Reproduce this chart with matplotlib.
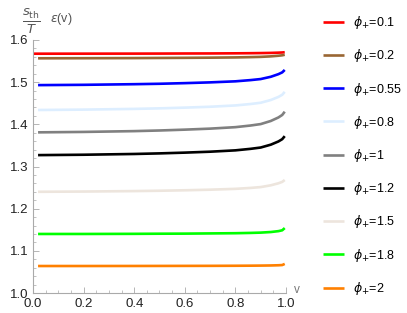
import matplotlib
matplotlib.use("Agg")
import matplotlib.pyplot as plt
from matplotlib.ticker import MultipleLocator

v = [0.02, 0.2, 0.4, 0.5, 0.6, 0.7, 0.8, 0.86, 0.9, 0.94, 0.97, 0.985, 0.995]
labels = ["0.1", "0.2", "0.55", "0.8", "1", "1.2", "1.5", "1.8", "2"]
colors = ["#FF0000", "#996633", "#0000FF", "#DDEEFF", "#808080",
          "#000000", "#EDE5DD", "#00FF00", "#FF8000"]
series = [
    [1.5675, 1.5676, 1.5677, 1.5678, 1.568, 1.5681, 1.5684, 1.5687, 1.569, 1.5694, 1.570, 1.5704, 1.571],
    [1.5566, 1.5568, 1.5571, 1.5574, 1.5577, 1.5581, 1.5587, 1.5594, 1.560, 1.5612, 1.5627, 1.5637, 1.565],
    [1.493, 1.4937, 1.4952, 1.4962, 1.4977, 1.4995, 1.502, 1.5049, 1.5074, 1.5128, 1.519, 1.5232, 1.529],
    [1.434, 1.4349, 1.4366, 1.4379, 1.4396, 1.4417, 1.4448, 1.4482, 1.4512, 1.4577, 1.465, 1.4701, 1.477],
    [1.381, 1.382, 1.3839, 1.3854, 1.3874, 1.3898, 1.3933, 1.3972, 1.4006, 1.408, 1.4163, 1.4222, 1.430],
    [1.327, 1.3279, 1.3297, 1.3311, 1.3329, 1.3351, 1.3383, 1.3419, 1.345, 1.3518, 1.3594, 1.3648, 1.372],
    [1.240, 1.2406, 1.2417, 1.2425, 1.2436, 1.245, 1.247, 1.2492, 1.2512, 1.2554, 1.2602, 1.2635, 1.268],
    [1.140, 1.140, 1.1403, 1.1406, 1.1408, 1.1413, 1.1418, 1.1425, 1.1432, 1.1446, 1.1467, 1.1487, 1.154],
    [1.064, 1.064, 1.0641, 1.0642, 1.0643, 1.0644, 1.0646, 1.0648, 1.065, 1.0653, 1.0658, 1.0663, 1.069],
]

plt.rcParams['font.family'] = ['Liberation Sans', 'DejaVu Sans']
plt.rcParams['mathtext.fontset'] = 'dejavusans'

fig = plt.figure(figsize=(4.07, 3.13), dpi=100)
ax = fig.add_axes([33/407, 20/313, 253/407, 253/313])

handles = []
for vals, c, lab in zip(series, colors, labels):
    xs = v
    if lab == "0.1":
        xs = [0.0] + v[1:]
    h, = ax.plot(xs, vals, color=c, lw=1.9, solid_capstyle='butt',
                 solid_joinstyle='round', label=r'$\phi_{+}$=' + lab)
    handles.append(h)

ax.set_xlim(0, 1.0)
ax.set_ylim(1.0, 1.6)
ax.xaxis.set_major_locator(MultipleLocator(0.2))
ax.xaxis.set_minor_locator(MultipleLocator(0.05))
ax.yaxis.set_major_locator(MultipleLocator(0.1))
ax.yaxis.set_minor_locator(MultipleLocator(0.02))
ax.xaxis.set_major_formatter(plt.FuncFormatter(lambda x, p: f"{x:.1f}"))
ax.yaxis.set_major_formatter(plt.FuncFormatter(lambda x, p: f"{x:.1f}"))
for s in ['top', 'right']:
    ax.spines[s].set_visible(False)
for s in ['left', 'bottom']:
    ax.spines[s].set_color('#AAAAAA')
    ax.spines[s].set_linewidth(0.8)
ax.tick_params(which='major', direction='in', length=4, width=0.6,
               color='#AAAAAA', labelsize=9.5, labelcolor='#222222')
ax.tick_params(axis='y', which='major', pad=3)
ax.tick_params(axis='x', which='major', pad=3.5)
ax.tick_params(which='minor', direction='in', length=2, width=0.5,
               color='#AAAAAA')

fig.text(297/407, 1 - 290/313, 'v', fontsize=8.5, color='#777777',
         ha='center', va='center')
fig.text(31/407, 1 - 21/313, r'$\frac{s_{\rm th}}{T}$', fontsize=13.5,
         color='#555555', ha='center', va='center')
fig.text(50/407, 1 - 19/313, r'$\epsilon$(v)', fontsize=9,
         color='#555555', ha='left', va='center')

leg = fig.legend(handles=handles, loc='upper left',
                 bbox_to_anchor=(318/407, 1 - 9/313), frameon=False,
                 fontsize=9, handlelength=1.7, handletextpad=0.7,
                 labelspacing=1.3, borderaxespad=0)

fig.savefig("out.png", dpi=100)
